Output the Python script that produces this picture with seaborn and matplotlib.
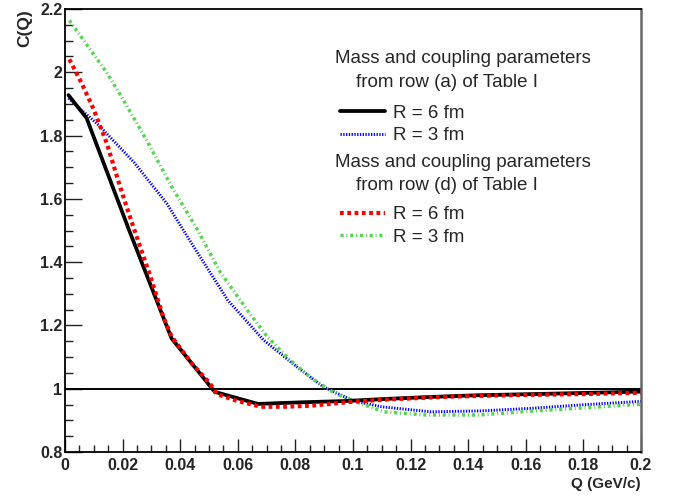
import matplotlib
matplotlib.use("Agg")
import matplotlib.pyplot as plt
from matplotlib.lines import Line2D
from matplotlib.ticker import MultipleLocator, FixedFormatter, FixedLocator
import pandas as pd
import seaborn as sns

# ---- correlation function C(Q), Q in GeV/c ----
# parameters of row (a), source radius R = 6 fm
q_a6 = [0.0012, 0.0075, 0.0223, 0.0370, 0.0520, 0.0670, 0.0820, 0.0970, 0.1120,
        0.1270, 0.1420, 0.1570, 0.1720, 0.1870, 0.2000]
c_a6 = [1.928, 1.855, 1.500, 1.159, 0.990, 0.952, 0.957, 0.961, 0.968,
        0.974, 0.979, 0.982, 0.985, 0.988, 0.991]

# parameters of row (a), R = 3 fm
q_a3 = [0.0012, 0.0120, 0.0240, 0.0353, 0.0446, 0.0565, 0.0689, 0.0804, 0.0897,
        0.1000, 0.1099, 0.1270, 0.1447, 0.1620, 0.1794, 0.2000]
c_a3 = [1.918, 1.830, 1.715, 1.586, 1.450, 1.280, 1.154, 1.070, 1.006,
        0.962, 0.943, 0.927, 0.930, 0.938, 0.949, 0.960]

# parameters of row (d), R = 6 fm
q_d6 = [0.0015, 0.0058, 0.0098, 0.0145, 0.0191, 0.0237, 0.0295, 0.0341, 0.0370,
        0.0440, 0.0503, 0.0527, 0.0596, 0.0680, 0.0760, 0.0850, 0.1000, 0.1140,
        0.1337, 0.1568, 0.1800, 0.2000]
c_d6 = [2.041, 1.965, 1.886, 1.776, 1.639, 1.512, 1.359, 1.228, 1.165,
        1.080, 1.017, 0.983, 0.962, 0.943, 0.943, 0.946, 0.959, 0.967,
        0.975, 0.980, 0.983, 0.987]

# parameters of row (d), R = 3 fm
q_d3 = [0.0015, 0.0145, 0.0203, 0.0289, 0.0370, 0.0457, 0.0538, 0.0637, 0.0700,
        0.0775, 0.0856, 0.0938, 0.1030, 0.1107, 0.1252, 0.1437, 0.1634, 0.1825,
        0.2000]
c_d3 = [2.164, 1.999, 1.912, 1.776, 1.639, 1.507, 1.370, 1.243, 1.167,
        1.096, 1.033, 0.985, 0.952, 0.927, 0.917, 0.917, 0.930, 0.941,
        0.951]

x_ticks = [0.0, 0.02, 0.04, 0.06, 0.08, 0.1, 0.12, 0.14, 0.16, 0.18, 0.2]
x_tick_labels = ["0", "0.02", "0.04", "0.06", "0.08", "0.1", "0.12", "0.14",
                 "0.16", "0.18", "0.2"]
y_ticks = [0.8, 1.0, 1.2, 1.4, 1.6, 1.8, 2.0, 2.2]
y_tick_labels = ["0.8", "1", "1.2", "1.4", "1.6", "1.8", "2", "2.2"]

header_a = ["Mass and coupling parameters", "from row (a) of Table I"]
header_d = ["Mass and coupling parameters", "from row (d) of Table I"]
labels_a = ["R = 6 fm", "R = 3 fm"]
labels_d = ["R = 6 fm", "R = 3 fm"]

sns.set_style("ticks")
FAM = ["Liberation Sans", "DejaVu Sans"]
plt.rcParams["font.family"] = FAM

fig = plt.figure(figsize=(6.81, 4.97), dpi=100)
ax = fig.add_axes([65 / 681, 45 / 497, 576 / 681, 443 / 497])

BLACK = "#000000"
BLUE = "#0000ff"
RED = "#ff0000"
GREEN = "#59d454"

styles = {
    "a6": dict(color=BLACK, lw=2.7, linestyle="-", solid_joinstyle="miter"),
    "a3": dict(color=BLUE, lw=2.1, linestyle=(0, (0.45, 0.5))),
    "d6": dict(color=RED, lw=3.0, linestyle=(0, (0.9, 0.85))),
    "d3": dict(color=GREEN, lw=2.5, linestyle=(0, (0.9, 0.8, 0.3, 0.8))),
}

ax.axhline(1.0, color="black", lw=1.4, zorder=1)

series = [("a3", q_a3, c_a3), ("d3", q_d3, c_d3), ("a6", q_a6, c_a6), ("d6", q_d6, c_d6)]
for key, q, c in series:
    df = pd.DataFrame({"Q": q, "C": c})
    sns.lineplot(data=df, x="Q", y="C", ax=ax, legend=False, sort=False,
                 estimator=None, **styles[key])

ax.set_xlim(0.0, 0.2)
ax.set_ylim(0.8, 2.2)

ax.xaxis.set_major_locator(FixedLocator(x_ticks))
ax.xaxis.set_major_formatter(FixedFormatter(x_tick_labels))
ax.xaxis.set_minor_locator(MultipleLocator(0.005))
ax.yaxis.set_major_locator(FixedLocator(y_ticks))
ax.yaxis.set_major_formatter(FixedFormatter(y_tick_labels))
ax.yaxis.set_minor_locator(MultipleLocator(0.05))

ax.tick_params(axis="x", which="major", direction="in", length=9.6, width=1.0,
               pad=4.2, color="#222222")
ax.tick_params(axis="x", which="minor", direction="in", length=4.8, width=1.0,
               color="#222222")
ax.tick_params(axis="y", which="major", direction="in", length=11.9, width=1.0,
               pad=1.8, color="#222222")
ax.tick_params(axis="y", which="minor", direction="in", length=6.0, width=1.0,
               color="#222222")
for lab in ax.get_xticklabels() + ax.get_yticklabels():
    lab.set_fontfamily(FAM)
    lab.set_fontweight("bold")
    lab.set_fontsize(11.5)

for side in ["left", "bottom", "top"]:
    ax.spines[side].set_color("black")
    ax.spines[side].set_linewidth(1.3)
ax.spines["right"].set_color("#666666")
ax.spines["right"].set_linewidth(1.8)

ax.set_xlabel("Q (GeV/c)", loc="right", fontsize=11, fontweight="bold")
ax.xaxis.set_label_coords(1.0, -0.057)
ax.set_ylabel("C(Q)", loc="top", fontsize=12.5, fontweight="bold")
ax.yaxis.set_label_coords(-0.057, 1.0)

# legend headers
LEG_SIZE = 13.5
hdr_kw = dict(transform=ax.transAxes, fontsize=LEG_SIZE, va="baseline", ha="left",
              family=FAM)
ax.text(0.4688, 0.878, header_a[0], **hdr_kw)
ax.text(0.505, 0.8246, header_a[1], **hdr_kw)
ax.text(0.4688, 0.644, header_d[0], **hdr_kw)
ax.text(0.505, 0.591, header_d[1], **hdr_kw)


def handle(key):
    s = styles[key]
    return Line2D([], [], color=s["color"], lw=s["lw"], linestyle=s["linestyle"])


leg_kw = dict(loc="upper left", frameon=False, borderpad=0, borderaxespad=0,
              handlelength=2.4, handletextpad=0.43, labelspacing=0.29,
              prop=dict(family=FAM, size=LEG_SIZE))
leg1 = ax.legend([handle("a6"), handle("a3")], labels_a,
                 bbox_to_anchor=(0.477, 0.784), **leg_kw)
ax.add_artist(leg1)
leg2 = ax.legend([handle("d6"), handle("d3")], labels_d,
                 bbox_to_anchor=(0.477, 0.5546), **leg_kw)

fig.savefig("out.png", dpi=100, facecolor="white")
